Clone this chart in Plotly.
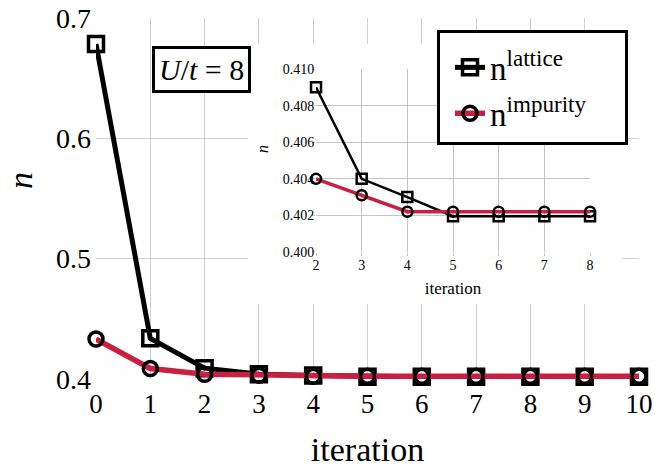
import plotly.graph_objects as go

# DMFT-style convergence: density n per iteration
iterations = [0, 1, 2, 3, 4, 5, 6, 7, 8, 9, 10]
n_lattice = [0.6784, 0.4338, 0.4090, 0.4040, 0.4030, 0.40196, 0.40196, 0.40196, 0.40196, 0.40196, 0.40196]
n_impurity = [0.4332, 0.4087, 0.4040, 0.4031, 0.4022, 0.4022, 0.4022, 0.4022, 0.4022, 0.4022, 0.4022]

# zoomed inset: iterations 2..8
inset_iter = iterations[2:9]
inset_lattice = n_lattice[2:9]
inset_impurity = n_impurity[2:9]

main_yticks = [0.4, 0.5, 0.6, 0.7]
inset_yticks = [0.400, 0.402, 0.404, 0.406, 0.408, 0.410]

black = '#000000'
crimson = '#c91f42'
grid = '#cfcfcf'
inset_grid = '#c4c4c4'
font = 'Liberation Serif'
pad = '&nbsp;' * 4  # legend box is wider than its text in the reference

fig = go.Figure()

# main traces
fig.add_trace(go.Scatter(
    x=iterations, y=n_lattice, mode='lines+markers', name='n<sup>lattice</sup>' + pad,
    line=dict(color=black, width=5),
    marker=dict(symbol='square-open', size=15, color=black, line=dict(width=3.5)),
    cliponaxis=False))
fig.add_trace(go.Scatter(
    x=iterations, y=n_impurity, mode='lines+markers', name='n<sup>impurity</sup>' + pad,
    line=dict(color=crimson, width=5.5),
    marker=dict(symbol='circle-open', size=14, color=black, line=dict(width=3.5)),
    cliponaxis=False))

# empty subplot, only there so its white background hides the main grid behind the inset
fig.add_trace(go.Scatter(x=[], y=[], xaxis='x2', yaxis='y2', showlegend=False))

# inset traces
fig.add_trace(go.Scatter(
    x=inset_iter, y=inset_lattice, mode='lines+markers', showlegend=False,
    xaxis='x3', yaxis='y3',
    line=dict(color=black, width=2.5),
    marker=dict(symbol='square-open', size=10, color=black, line=dict(width=2.5)),
    cliponaxis=False))
fig.add_trace(go.Scatter(
    x=inset_iter, y=inset_impurity, mode='lines+markers', showlegend=False,
    xaxis='x3', yaxis='y3',
    line=dict(color=crimson, width=3.5),
    marker=dict(symbol='circle-open', size=10, color=black, line=dict(width=2.5)),
    cliponaxis=False))

fig.update_layout(
    width=655, height=468,
    margin=dict(l=96, r=16, t=18, b=89, autoexpand=False),
    paper_bgcolor='white', plot_bgcolor='white',
    font=dict(family=font, color=black),
    xaxis=dict(range=[0, 10], tickvals=iterations, showgrid=True, gridcolor=grid,
               zeroline=False, showline=False, ticks='', automargin=False,
               tickfont=dict(size=27), ticklabelstandoff=6,
               title=dict(text='iteration', font=dict(size=34), standoff=22)),
    yaxis=dict(range=[0.4, 0.7], tickvals=main_yticks, ticktext=[f'{v:.1f}' for v in main_yticks],
               showgrid=True, gridcolor=grid, zeroline=False, showline=False, ticks='',
               automargin=False, tickfont=dict(size=28), ticklabelstandoff=4),
    xaxis2=dict(domain=[0.28, 0.969], range=[0, 1], visible=False, anchor='y2',
                fixedrange=True, automargin=False),
    yaxis2=dict(domain=[0.208, 0.928], range=[0, 1], visible=False, anchor='x2',
                fixedrange=True, automargin=False),
    xaxis3=dict(domain=[0.4052, 0.9098], range=[2, 8], dtick=1, anchor='y3',
                showgrid=True, gridcolor=inset_grid, zeroline=False, showline=False,
                ticks='outside', ticklen=3, tickcolor=inset_grid,
                automargin=False, tickfont=dict(size=14), ticklabelstandoff=-3,
                title=dict(text='iteration', font=dict(size=17), standoff=10)),
    yaxis3=dict(domain=[0.3518, 0.8587], range=[0.400, 0.410], tickvals=inset_yticks,
                tickformat='.3f', anchor='x3',
                showgrid=True, gridcolor=inset_grid, zeroline=False, showline=False,
                ticks='outside', ticklen=3, tickcolor=inset_grid,
                automargin=False, tickfont=dict(size=14), ticklabelstandoff=-5),
    legend=dict(x=0.628, y=0.967, xanchor='left', yanchor='top',
                bgcolor='white', bordercolor=black, borderwidth=3,
                font=dict(size=33), itemwidth=30, indentation=10,
                title=dict(text='&nbsp;', font=dict(size=5))),
    annotations=[
        dict(text='<i>U</i>/<i>t</i> = 8', xref='paper', yref='paper',
             x=0.195, y=0.857, xanchor='center', yanchor='middle', showarrow=False,
             font=dict(size=30), bgcolor='white', bordercolor=black,
             borderwidth=3, borderpad=4),
        # y titles sit a little above the middle of their axes in the reference
        dict(text='<i>n</i>', xref='paper', yref='paper', x=-0.138, y=0.5485,
             xanchor='center', yanchor='middle', textangle=-90, showarrow=False,
             font=dict(size=34)),
        dict(text='<i>n</i>', xref='paper', yref='paper', x=0.3057, y=0.637,
             xanchor='center', yanchor='middle', textangle=-90, showarrow=False,
             font=dict(size=16)),
    ],
)

# the page's default body margin would offset the 655x468 figure by 8px
fig.write_html("out.html", config={'displayModeBar': False},
               post_script="document.body.style.margin = '0';")
